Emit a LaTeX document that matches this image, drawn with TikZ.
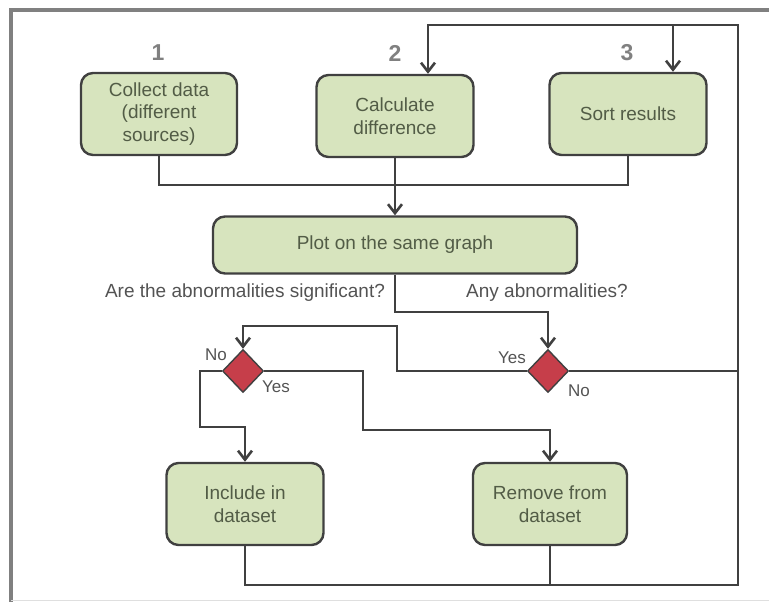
\documentclass[tikz,border=0pt]{standalone}
\usepackage{fontspec}
\setmainfont{Liberation Sans}
\usetikzlibrary{shapes.geometric,arrows.meta}
\definecolor{boxfill}{RGB}{215,228,190}
\definecolor{boxtext}{RGB}{82,92,70}
\definecolor{linegray}{RGB}{64,64,64}
\definecolor{decred}{RGB}{198,62,74}
\definecolor{framegray}{RGB}{128,128,128}
\tikzset{
  stepbox/.style={draw=linegray,line width=2.4pt,fill=boxfill,rounded corners=12pt,
    align=center,inner sep=0pt,text=boxtext,font=\fontsize{19}{22.5}\selectfont},
  decision/.style={diamond,draw=linegray,line width=1.4pt,fill=decred,inner sep=0pt,
    minimum width=41pt,minimum height=43pt},
  conn/.style={draw=linegray,line width=2.6pt},
  arr/.style={conn,-{Straight Barb[length=9pt,width=14pt]}},
  lbl/.style={text=linegray!90,font=\fontsize{17}{20}\selectfont},
  qlbl/.style={lbl,font=\fontsize{19}{22}\selectfont},
  num/.style={text=framegray,font=\fontsize{23}{26}\selectfont\bfseries}
}
\begin{document}
\begin{tikzpicture}[x=1pt,y=-1pt]
    \useasboundingbox (0,0) rectangle (769,602);
    % frame
    \draw [framegray,line width=3.5pt] (11,602) -- (11,10) -- (769,10);
    \draw [gray!25,line width=1pt] (11,600) -- (769,600);
    % step numbers
    \node [num] (num1) at (158,53) {1};
    \node [num] (num2) at (395,53) {2};
    \node [num] (num3) at (627,53) {3};
    % boxes
    \node [stepbox,minimum width=156pt,minimum height=82pt] (collect) at (159,114) {Collect data\\(different\\sources)};
    \node [stepbox,minimum width=157pt,minimum height=82pt] (calcdiff) at (395,116) {Calculate\\difference};
    \node [stepbox,minimum width=157pt,minimum height=82pt] (sortres) at (628,114) {Sort results};
    \node [stepbox,minimum width=364pt,minimum height=57pt] (plotgraph) at (395,245) {Plot on the same graph};
    \node [stepbox,minimum width=157pt,minimum height=82pt] (include) at (245,504) {Include in\\dataset};
    \node [stepbox,minimum width=154pt,minimum height=82pt] (remove) at (550,504) {Remove from\\dataset};
    % decisions
    \node [decision] (decsig) at (243,371) {};
    \node [decision] (decany) at (548,371) {};
    \node [qlbl] (qsig) at (245,293) {Are the abnormalities significant?};
    \node [qlbl] (qany) at (547,293) {Any abnormalities?};
    \node [lbl] (signo) at (216,355) {No};
    \node [lbl] (sigyes) at (276,387) {Yes};
    \node [lbl] (anyyes) at (512,358) {Yes};
    \node [lbl] (anyno) at (579,391) {No};
    % turning points
    \coordinate (merge) at (395,185);
    \coordinate (fork) at (395,312);
    \coordinate (loopT) at (738,25);
    \coordinate (loopB) at (738,585);
    \coordinate (yesturn) at (397,326);
    \coordinate (noturn) at (200,427);
    \coordinate (yesdrop) at (363,430);
    \coordinate (calcin) at ([xshift=33pt]calcdiff.north);
    \coordinate (sortin) at ([xshift=45pt]sortres.north);
    % connectors
    \draw [conn] (collect.south) |- (merge);
    \draw [conn] (sortres.south) |- (merge);
    \draw [arr] (calcdiff.south) -- (plotgraph.north);
    \draw [arr] (plotgraph.south) -- (fork) -| (decany.north);
    \draw [arr] (decany.west) -| (yesturn) -| (decsig.north);
    \draw [conn] (decany.east) -- (decany.east -| loopT);
    \draw [arr] (decsig.west) -| (noturn) -| (include.north);
    \draw [arr] (decsig.east) -| (yesdrop) -| (remove.north);
    \draw [arr] (include.south) |- (loopB) -- (loopT) -| (calcin);
    \draw [conn] (remove.south) -- (remove.south |- loopB);
    \draw [arr] (sortin |- loopT) -- (sortin);
\end{tikzpicture}
\end{document}
